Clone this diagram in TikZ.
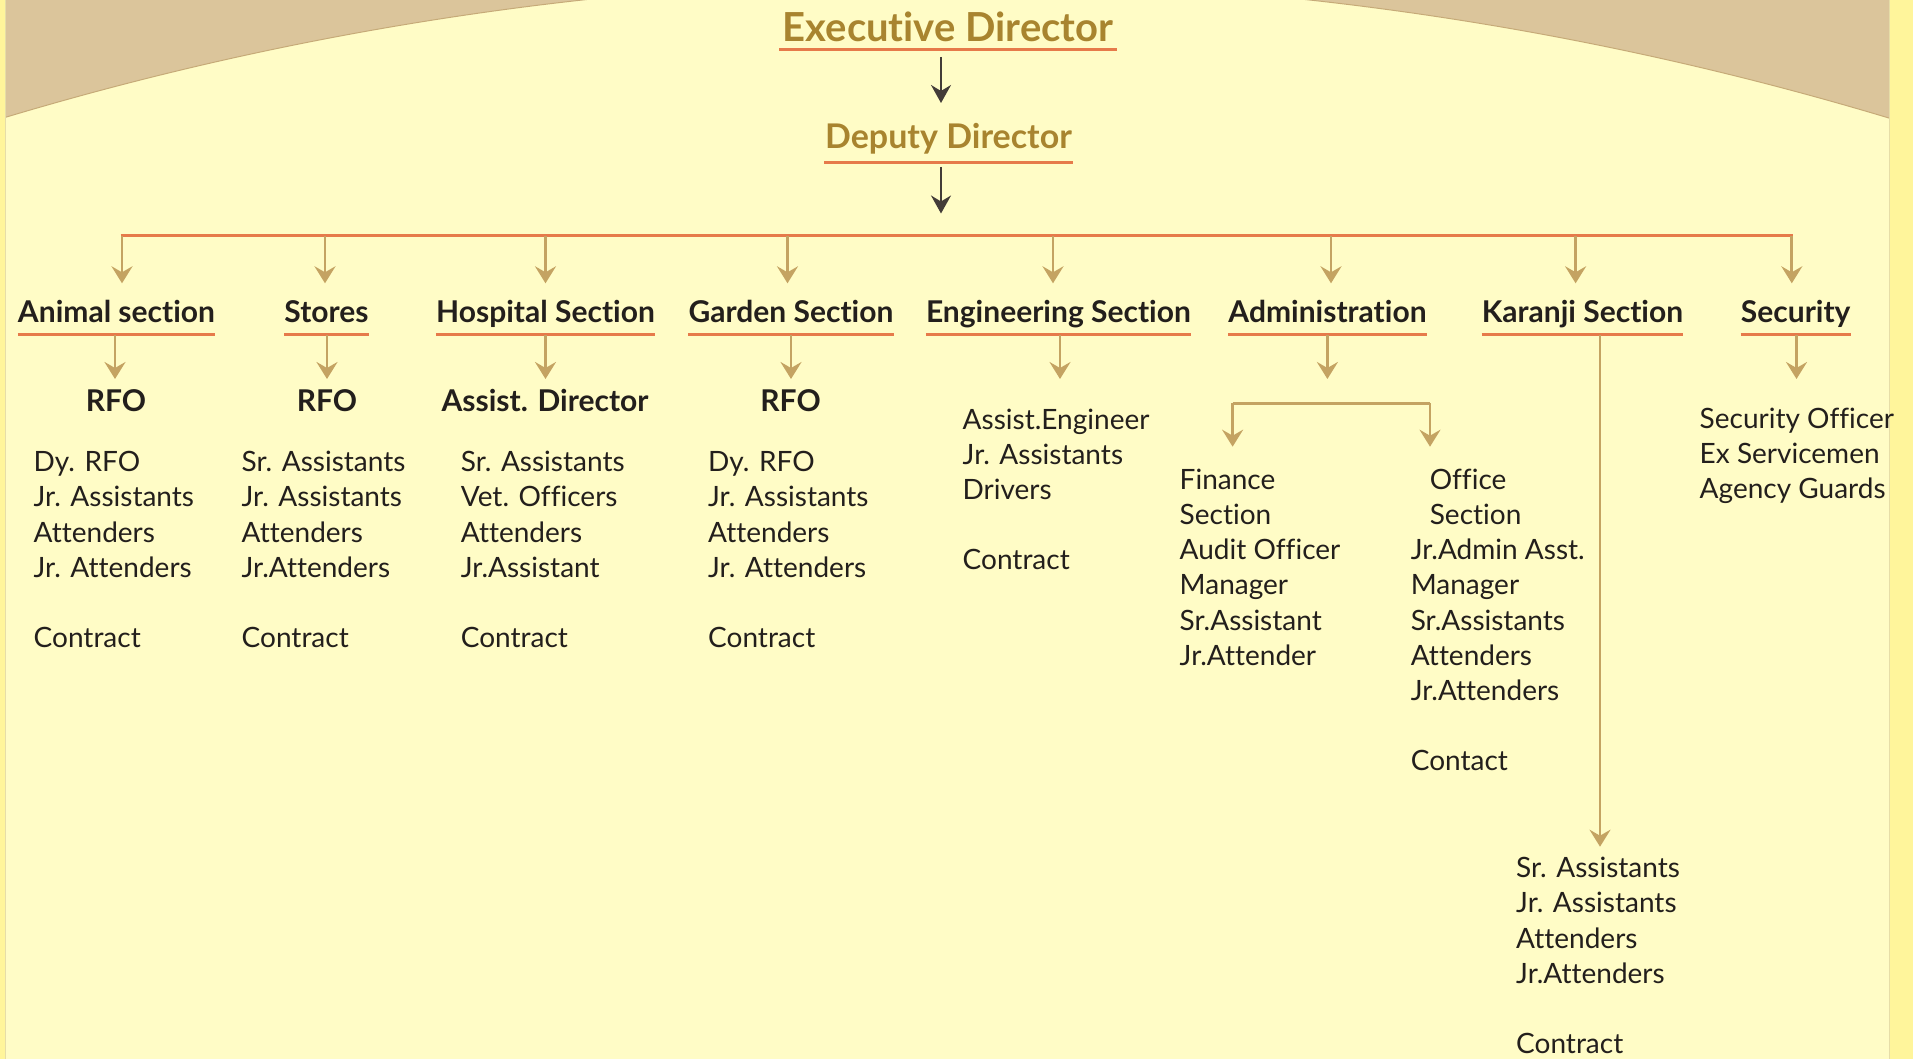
\documentclass[tikz,border=0pt]{standalone}
\usepackage{fontspec}
\setmainfont{Lato}[Ligatures=NoCommon]
\usetikzlibrary{arrows.meta}
\definecolor{bgyel}{HTML}{FFFCC6}
\definecolor{tanbg}{HTML}{DBC59B}
\definecolor{tanedge}{HTML}{C6AA78}
\definecolor{stripy}{HTML}{FFF59B}
\definecolor{stripedge}{HTML}{E6DDA8}
\definecolor{orng}{HTML}{E67A4A}
\definecolor{arr}{HTML}{C4A362}
\definecolor{darr}{HTML}{433C38}
\definecolor{gold}{HTML}{A8842F}
\definecolor{ink}{HTML}{231F1C}
\newcommand{\blk}[1]{\begin{tabular}[t]{@{}l@{}}#1\end{tabular}}
\tikzset{
  ttl/.style={font=\fontsize{40}{40}\selectfont\bfseries, text=gold, inner sep=0pt, anchor=base},
  sub/.style={font=\fontsize{34}{34}\selectfont\bfseries, text=gold, inner sep=0pt, anchor=base},
  hdr/.style={font=\fontsize{30}{30}\selectfont\bfseries, text=ink, inner sep=0pt, anchor=base},
  body/.style={font=\fontsize{28}{35.2}\selectfont, text=ink, inner sep=0pt, anchor=base west},
  uline/.style={draw=orng, line width=3pt},
  tline/.style={draw=arr, line width=2.7pt},
  tarr/.style={draw=arr, line width=2.7pt, -{Stealth[length=17pt, width=21pt, inset=6pt]}},
  darrow/.style={draw=darr, line width=2pt, -{Stealth[length=18pt, width=20pt, inset=6pt]}}
}
\begin{document}
\begin{tikzpicture}[x=1pt, y=-1pt]
\useasboundingbox (0,0) rectangle (1913,1059);
% background
\fill[bgyel] (0,0) rectangle (1913,1059);
\begin{scope}
  \clip (5,0) rectangle (1890,1059);
  \fill[tanbg] (5,0) rectangle (1890,200);
  \filldraw[fill=bgyel, draw=tanedge, line width=1pt] (946,3249) circle[radius=3269];
\end{scope}
\fill[stripy] (0,0) rectangle (5,1059);
\fill[stripy] (1890,0) rectangle (1913,1059);
\draw[stripedge, line width=1pt] (5.5,0) -- (5.5,1059);
\draw[stripedge, line width=1pt] (1889.5,0) -- (1889.5,1059);

% top
\node[ttl] (exec) at (948,41.7) {Executive Director};
\draw[uline] (779,50) -- (1117,50);
\node[sub] (dep) at (948.5,148.3) {Deputy Director};
\draw[uline] (824,162.3) -- (1073,162.3);
\coordinate (e1) at (941,57);   \coordinate (e2) at (941,103);
\coordinate (d1) at (941,167);  \coordinate (d2) at (941,213.5);
\draw[darrow] (e1) -- (e2);
\draw[darrow] (d1) -- (d2);

% bus
\coordinate (busL) at (120.5,236);
\coordinate (busR) at (1793.4,236);
\draw[uline] (busL) -- (busR);

% headers
\coordinate (ulY) at (0,334);
\newcommand{\hd}[3]{%
  \node[hdr] (#1) at (#2,322) {#3};
  \draw[uline] (#1.base west |- ulY) -- (#1.base east |- ulY);
}
\hd{an}{116.5}{Animal section}
\hd{st}{326.5}{Stores}
\hd{ho}{545.5}{Hospital Section}
\hd{ga}{791}{Garden Section}
\hd{en}{1058.5}{Engineering Section}
\hd{ad}{1327.5}{Administration}
\hd{ka}{1582.5}{Karanji Section}
\hd{se}{1795.7}{Security}

% bus arrows
\foreach \n/\x in {an/122, st/325, ho/545.5, ga/787.5, en/1053, ad/1331, ka/1575.6, se/1791.8}{
  \draw[tarr] (\x,236) -- (\x,283.3);
}
% second arrows
\foreach \n/\x in {an/115, st/327, ho/545.5, ga/791, en/1060, ad/1327.4, se/1796.5}{
  \draw[tarr] (\x,335) -- (\x,379);
}

% sub heads
\node[hdr] (anr) at (116,411.7) {RFO};
\node[hdr] (str) at (327,411.7) {RFO};
\node[hdr] (hor) at (545,411.7) {Assist. Director};
\node[hdr] (gar) at (790.6,411.7) {RFO};

% bodies
\node[body] (anb) at (33.5,471.7) {\blk{Dy. RFO\\Jr. Assistants\\Attenders\\Jr. Attenders\\ \\Contract}};
\node[body] (stb) at (241.5,471.7) {\blk{Sr. Assistants\\Jr. Assistants\\Attenders\\Jr.Attenders\\ \\Contract}};
\node[body] (hob) at (460.7,471.7) {\blk{Sr. Assistants\\Vet. Officers\\Attenders\\Jr.Assistant\\ \\Contract}};
\node[body] (gab) at (708,471.7) {\blk{Dy. RFO\\Jr. Assistants\\Attenders\\Jr. Attenders\\ \\Contract}};
\node[body] (enb) at (962.5,429) {\blk{Assist.Engineer\\Jr. Assistants\\Drivers\\ \\Contract}};
\node[body] (seb) at (1699.5,428.3) {\blk{Security Officer\\Ex Servicemen\\Agency Guards}};

% administration bracket
\coordinate (brL) at (1232.6,403.3);
\coordinate (brR) at (1430,403.3);
\coordinate (fnT) at (1232.6,446.7);
\coordinate (ofT) at (1430,446.7);
\draw[tline] (brL) -- (brR);
\draw[tarr] (brL) -- (fnT);
\draw[tarr] (brR) -- (ofT);
\node[body] (fin) at (1179.5,489.3) {\blk{Finance\\Section\\Audit Officer\\Manager\\Sr.Assistant\\Jr.Attender}};
\node[body] (off) at (1410.6,489.3) {\blk{\hspace{19pt}Office\\\hspace{19pt}Section\\Jr.Admin Asst.\\Manager\\Sr.Assistants\\Attenders\\Jr.Attenders\\ \\Contact}};

% karanji
\coordinate (kaT) at (1600,335);
\coordinate (kaB) at (1600,846.7);
\draw[tarr] (kaT) -- (kaB);
\node[body] (kab) at (1516,877.7) {\blk{Sr. Assistants\\Jr. Assistants\\Attenders\\Jr.Attenders\\ \\Contract}};
\end{tikzpicture}
\end{document}
